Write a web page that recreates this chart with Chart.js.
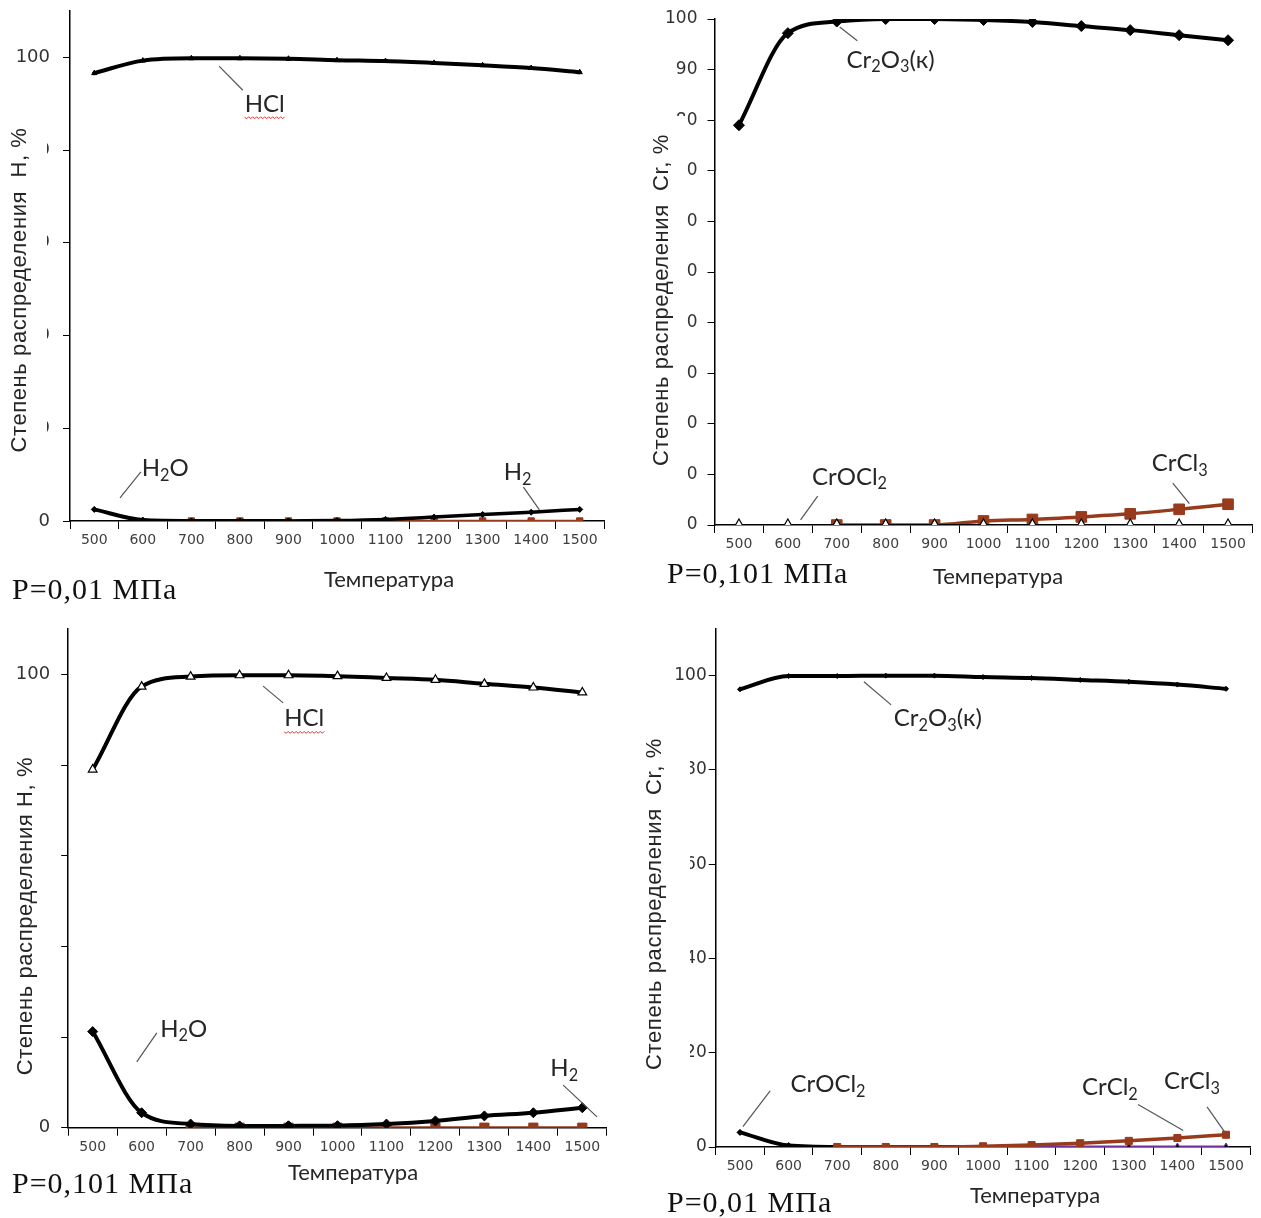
<!DOCTYPE html>
<html>
<head>
<meta charset="utf-8">
<script src="https://cdn.jsdelivr.net/npm/chart.js@4.4.0/dist/chart.umd.min.js"></script>
<style>
html, body { margin: 0; padding: 0; background: #fff; }
body { width: 1261px; height: 1218px; position: relative; overflow: hidden; }
canvas { position: absolute; }
</style>
</head>
<body>
<canvas id="c1" style="left:0;top:0" width="640" height="610"></canvas>
<canvas id="c2" style="left:640px;top:0" width="621" height="610"></canvas>
<canvas id="c3" style="left:0;top:610px" width="640" height="608"></canvas>
<canvas id="c4" style="left:640px;top:610px" width="621" height="608"></canvas>
<script>
// temperatures (x categories)
var temps = ['500', '600', '700', '800', '900', '1000', '1100', '1200', '1300', '1400', '1500'];

// H, P=0,01 MPa (top left)
var h1HCl = [96.6, 99.3, 99.8, 99.8, 99.7, 99.4, 99.2, 98.8, 98.3, 97.7, 96.8];
var h1H2O = [2.5, 0.2, 0, 0, 0, null, null, null, null, null, null];
var h1H2 = [null, null, null, null, 0, 0.1, 0.35, 0.85, 1.4, 1.9, 2.5];
var h1Other = [null, null, 0, 0, 0, 0, 0, 0, 0, 0, 0];

// Cr, P=0,101 MPa (top right)
var cr2Cr2O3 = [79.0, 97.2, 99.5, 100, 100, 99.8, 99.4, 98.6, 97.8, 96.8, 95.8];
var cr2CrOCl2 = [0, 0, 0, 0, 0, 0, 0, 0, 0, 0, 0];
var cr2CrCl3 = [null, null, 0, 0, 0, 0.8, 1.1, 1.6, 2.2, 3.1, 4.1];

// H, P=0,101 MPa (bottom left)
var h3HCl = [79.0, 97.3, 99.5, 99.8, 99.8, 99.6, 99.2, 98.8, 97.9, 97.1, 96.0];
var h3H2O = [21.2, 3.3, 0.8, 0.4, 0.4, null, null, null, null, null, null];
var h3H2 = [null, null, null, null, 0.4, 0.45, 0.8, 1.5, 2.6, 3.3, 4.4];
var h3Other = [null, null, 0, 0, 0, 0, 0, 0, 0, 0, 0];

// Cr, P=0,01 MPa (bottom right)
var cr4Cr2O3 = [97.1, 99.9, 99.9, 100, 100, 99.7, 99.5, 99.1, 98.7, 98.1, 97.2];
var cr4CrOCl2 = [3.1, 0.3, 0, 0, 0, 0, 0, null, null, null, null];
var cr4CrCl3 = [null, null, 0, 0, 0, 0.15, 0.4, 0.8, 1.3, 1.9, 2.6];
var cr4Other = [null, null, null, null, null, null, 0, 0, 0, 0, 0];

var BROWN = '#983a1c';
var NOTE_FONT = 'Lato, "Open Sans", sans-serif';

function ser(data, color, width, style, radius, fill, order) {
    return {
        data: data,
        borderColor: color,
        borderWidth: width,
        pointStyle: style,
        pointRadius: radius,
        pointBackgroundColor: fill,
        pointBorderColor: style === 'triangle' && fill === '#fff' ? '#000' : color,
        pointBorderWidth: style === 'triangle' && fill === '#fff' ? 1.2 : 1,
        order: order,
        spanGaps: false
    };
}

// text with "_x" subscripts, centred on cx,cy
function drawRich(ctx, str, cx, cy, size, family) {
    var parts = [];
    for (var i = 0; i < str.length; i++) {
        if (str[i] === '_') { parts.push({ t: str[i + 1], sub: true }); i++; }
        else parts.push({ t: str[i], sub: false });
    }
    var w = 0;
    parts.forEach(function (p) {
        ctx.font = (p.sub ? size * 0.68 : size) + 'px ' + family;
        p.w = ctx.measureText(p.t).width;
        w += p.w;
    });
    var x = cx - w / 2;
    ctx.textAlign = 'left';
    ctx.textBaseline = 'alphabetic';
    parts.forEach(function (p) {
        ctx.font = (p.sub ? size * 0.68 : size) + 'px ' + family;
        ctx.fillText(p.t, x, cy + size * 0.36 + (p.sub ? size * 0.2 : 0));
        x += p.w;
    });
    return [cx - w / 2, cx + w / 2];
}

var decor = {
    id: 'decor',
    afterDraw: function (chart) {
        var o = chart.options.plugins.decor;
        var ctx = chart.ctx;
        var xs = chart.scales.x, ys = chart.scales.y;
        ctx.save();
        // title box covering part of the y tick labels, as in the source
        ctx.fillStyle = '#fff';
        ctx.fillRect(o.box[0], o.box[1], o.box[2], o.box[3]);

        ctx.fillStyle = '#262626';
        ctx.save();
        ctx.translate(o.yTitle.x, o.yTitle.y);
        ctx.rotate(-Math.PI / 2);
        ctx.font = '22px "Liberation Sans", Arial, sans-serif';
        ctx.letterSpacing = '0.6px';
        ctx.textAlign = 'center';
        ctx.textBaseline = 'middle';
        ctx.fillText(o.yTitle.text, 0, 0);
        ctx.restore();

        ctx.font = '22px ' + NOTE_FONT;
        ctx.textAlign = 'center';
        ctx.textBaseline = 'middle';
        ctx.fillText('Температура', o.xTitle.x, o.xTitle.y);

        ctx.save();
        ctx.fillStyle = '#111';
        ctx.font = '30px "Liberation Serif", "Times New Roman", serif';
        ctx.letterSpacing = '1px';
        ctx.textAlign = 'left';
        ctx.textBaseline = 'middle';
        ctx.fillText(o.pLabel.text, o.pLabel.x, o.pLabel.y);
        ctx.restore();

        o.notes.forEach(function (n) {
            ctx.strokeStyle = '#555';
            ctx.lineWidth = 1.2;
            ctx.beginPath();
            ctx.moveTo(xs.getPixelForValue(n.line[0]), ys.getPixelForValue(n.line[1]));
            ctx.lineTo(xs.getPixelForValue(n.line[2]), ys.getPixelForValue(n.line[3]));
            ctx.stroke();
            ctx.fillStyle = '#262626';
            var cx = xs.getPixelForValue(n.x), cy = ys.getPixelForValue(n.y);
            var ext = drawRich(ctx, n.text, cx, cy, 24, NOTE_FONT);
            if (n.wavy) {
                ctx.strokeStyle = '#e0302a';
                ctx.lineWidth = 1;
                ctx.beginPath();
                var wy = cy + 14;
                for (var x = ext[0], k = 0; x <= ext[1] + 1; x += 2, k++) {
                    if (k === 0) ctx.moveTo(x, wy);
                    else ctx.lineTo(x, wy + (k % 2 ? 1.5 : -0.5));
                }
                ctx.stroke();
            }
        });
        ctx.restore();
    }
};

function makeChart(id, cfg) {
    return new Chart(document.getElementById(id), {
        type: 'line',
        data: { labels: temps, datasets: cfg.datasets },
        options: {
            responsive: false,
            animation: false,
            events: [],
            layout: { padding: { left: 0, top: cfg.area.top, right: cfg.area.right, bottom: 0 } },
            elements: { line: { cubicInterpolationMode: 'monotone', borderCapStyle: 'round', borderJoinStyle: 'round' } },
            plugins: { legend: { display: false }, tooltip: { enabled: false }, decor: cfg.decor },
            scales: {
                x: {
                    offset: true,
                    grid: { offset: true, drawOnChartArea: false, color: '#000', tickLength: 8, lineWidth: 1 },
                    border: { color: '#000', width: 1.5 },
                    ticks: { color: '#404040', font: { family: '"DejaVu Sans", sans-serif', size: 14 }, padding: 3, maxRotation: 0, autoSkip: false },
                    afterFit: function (s) { s.height = cfg.area.xh; s.paddingLeft = 0; s.paddingRight = 0; }
                },
                y: {
                    min: 0,
                    max: cfg.ymax,
                    grid: { drawOnChartArea: false, color: '#000', tickLength: 7, lineWidth: 1 },
                    border: { color: '#000', width: 1.5 },
                    ticks: { stepSize: cfg.step, color: '#333', font: { family: '"DejaVu Sans", sans-serif', size: cfg.yFont }, padding: cfg.yPad },
                    afterBuildTicks: function (s) { s.ticks = s.ticks.filter(function (t) { return t.value <= 100; }); },
                    afterFit: function (s) { s.width = cfg.area.left; s.paddingTop = 0; s.paddingBottom = 0; }
                }
            }
        },
        plugins: [decor]
    });
}

// top left: H, P=0,01
makeChart('c1', {
    area: { left: 70, right: 36, top: 11, xh: 89 },
    ymax: 110, step: 20, yFont: 18, yPad: 13,
    datasets: [
        ser(h1HCl, '#000', 4, 'triangle', 3, '#000', 0),
        ser(h1H2O, '#000', 4, 'rectRot', 3, '#000', 1),
        ser(h1H2, '#000', 3.5, 'rectRot', 3, '#000', 1),
        ser(h1Other, BROWN, 2.5, 'rect', 4.5, BROWN, 3)
    ],
    decor: {
        box: [0, 120, 47, 342],
        yTitle: { text: 'Степень распределения  Н, %', x: 20, y: 290 },
        xTitle: { x: 389, y: 580 },
        pLabel: { text: 'P=0,01 МПа', x: 12, y: 591 },
        notes: [
            { text: 'HCl', x: 3.51, y: 90.1, line: [2.57, 98.1, 3.06, 92.9], wavy: true },
            { text: 'H_2O', x: 1.46, y: 11.6, line: [0.53, 5.0, 0.96, 10.6] },
            { text: 'H_2', x: 8.72, y: 10.6, line: [8.84, 7.3, 9.17, 2.4] }
        ]
    }
});

// top right: Cr, P=0,101
makeChart('c2', {
    area: { left: 74.5, right: 8.5, top: 19, xh: 85 },
    ymax: 100, step: 10, yFont: 17, yPad: 10,
    datasets: [
        ser(cr2Cr2O3, '#000', 4, 'rectRot', 5.5, '#000', 2),
        ser(cr2CrOCl2, '#000', 2, 'triangle', 6, '#fff', 0),
        ser(cr2CrCl3, BROWN, 3.5, 'rect', 7.5, BROWN, 1)
    ],
    decor: {
        box: [0, 116, 46.5, 372],
        yTitle: { text: 'Степень распределения  Cr, %', x: 22, y: 300 },
        xTitle: { x: 358, y: 577 },
        pLabel: { text: 'P=0,101 МПа', x: 27, y: 575 },
        notes: [
            { text: 'Cr_2O_3(к)', x: 3.10, y: 92.1, line: [2.06, 98.4, 2.42, 95.7] },
            { text: 'CrOCl_2', x: 2.26, y: 9.7, line: [1.61, 5.7, 1.26, 1.0] },
            { text: 'CrCl_3', x: 9.01, y: 12.3, line: [8.87, 8.3, 9.21, 4.2] }
        ]
    }
});

// bottom left: H, P=0,101
makeChart('c3', {
    area: { left: 68.2, right: 33.2, top: 19, xh: 90.3 },
    ymax: 110, step: 20, yFont: 18, yPad: 11,
    datasets: [
        ser(h3HCl, '#000', 4, 'triangle', 5, '#fff', 0),
        ser(h3H2O, '#000', 4, 'rectRot', 5, '#000', 1),
        ser(h3H2, '#000', 4, 'rectRot', 5, '#000', 1),
        ser(h3Other, BROWN, 3, 'rect', 6.5, BROWN, 3)
    ],
    decor: {
        box: [0, 135, 52, 345],
        yTitle: { text: 'Степень распределения Н, %', x: 26, y: 306 },
        xTitle: { x: 353, y: 563 },
        pLabel: { text: 'P=0,101 МПа', x: 12, y: 575 },
        notes: [
            { text: 'HCl', x: 4.32, y: 90.4, line: [3.48, 97.4, 3.89, 93.7], wavy: true },
            { text: 'H_2O', x: 1.86, y: 22.0, line: [1.31, 20.9, 0.90, 14.5] },
            { text: 'H_2', x: 9.63, y: 13.2, line: [9.61, 9.4, 10.30, 2.4] }
        ]
    }
});

// bottom right: Cr, P=0,01
makeChart('c4', {
    area: { left: 75.7, right: 10.7, top: 18.5, xh: 71 },
    ymax: 110, step: 20, yFont: 17, yPad: 2,
    datasets: [
        ser(cr4Cr2O3, '#000', 4, 'rectRot', 2.5, '#000', 3),
        ser(cr4CrOCl2, '#000', 4, 'rectRot', 3, '#000', 2),
        ser(cr4CrCl3, BROWN, 3.5, 'rect', 5, BROWN, 0),
        ser(cr4Other, '#7030a0', 3, 'triangle', 4, '#000', 1)
    ],
    decor: {
        box: [0, 125, 50, 345],
        yTitle: { text: 'Степень распределения  Cr, %', x: 15, y: 294 },
        xTitle: { x: 395, y: 586 },
        pLabel: { text: 'P=0,01 МПа', x: 27, y: 594 },
        notes: [
            { text: 'Cr_2O_3(к)', x: 4.07, y: 91.2, line: [2.55, 98.7, 3.11, 93.8] },
            { text: 'CrOCl_2', x: 1.81, y: 13.4, line: [0.62, 11.9, 0.06, 4.3] },
            { text: 'CrCl_2', x: 7.61, y: 12.8, line: [8.19, 9.0, 9.12, 3.5] },
            { text: 'CrCl_3', x: 9.30, y: 14.1, line: [9.61, 8.5, 10.0, 2.8] }
        ]
    }
});
</script>
</body>
</html>
